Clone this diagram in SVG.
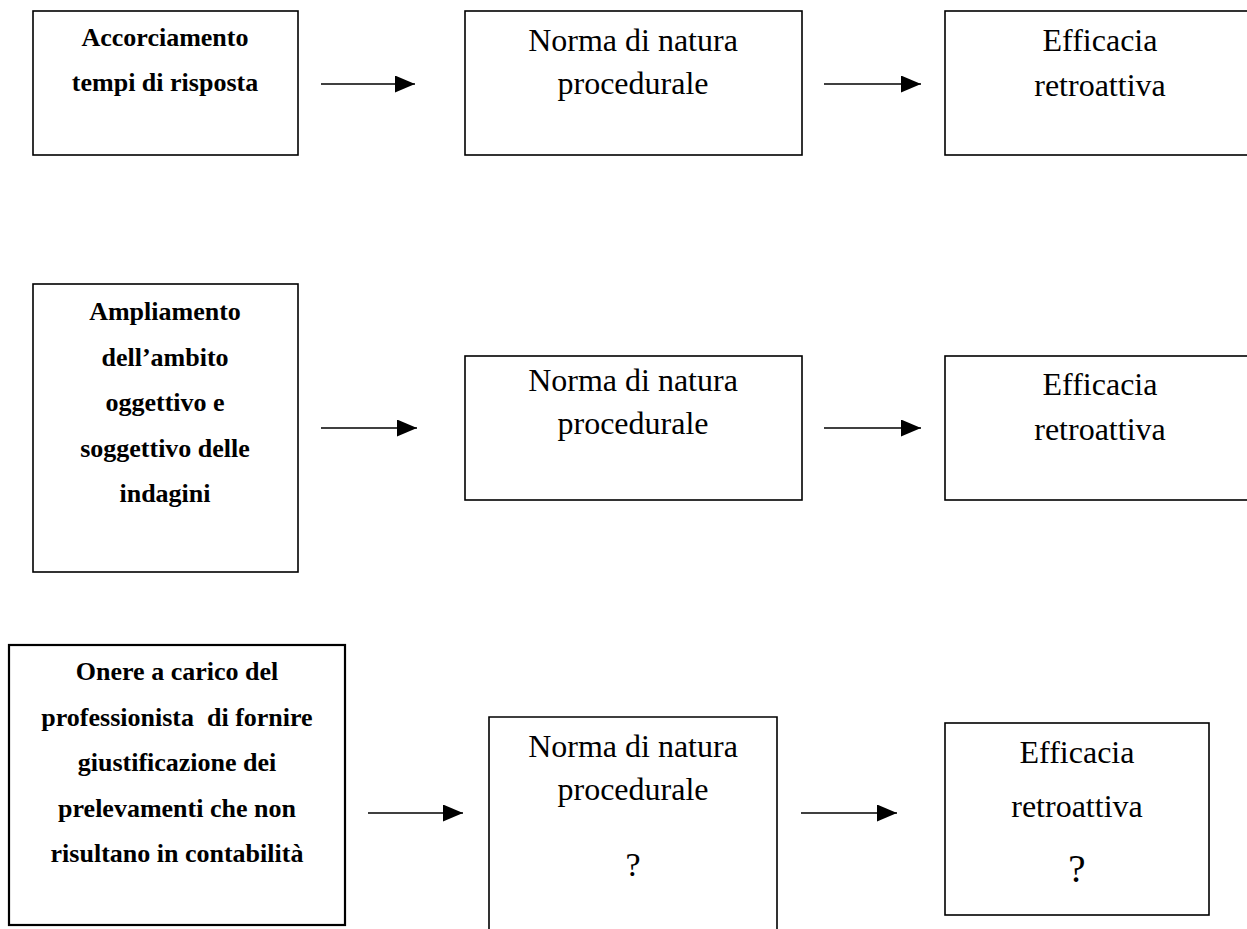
<svg xmlns="http://www.w3.org/2000/svg" width="1247" height="929" viewBox="0 0 1247 929">
<style>
.box{fill:#fff;stroke:#000;stroke-width:1.6}
.thick{stroke-width:2.2}
.b{font-family:"Liberation Serif","Times New Roman",serif;font-weight:bold;font-size:26px;text-anchor:middle;fill:#000}
.r{font-family:"Liberation Serif","Times New Roman",serif;font-size:32px;text-anchor:middle;fill:#000}
.q{font-family:"Liberation Serif","Times New Roman",serif;font-size:34px;text-anchor:middle;fill:#000}
.q2{font-family:"Liberation Serif","Times New Roman",serif;font-size:39px;text-anchor:middle;fill:#000}
.ln{stroke:#000;stroke-width:1.6;fill:none}
</style>
<defs>
<marker id="ah" markerUnits="userSpaceOnUse" markerWidth="20" markerHeight="17" refX="20" refY="8.5" orient="auto">
<path d="M0,0 L20,8.5 L0,17 Z" fill="#000"/>
</marker>
</defs>
<rect width="1247" height="929" fill="#fff"/>

<g id="n1a"><rect class="box" x="33" y="11" width="265" height="144"/>
<text class="b" x="165" y="46">Accorciamento</text>
<text class="b" x="165" y="91">tempi di risposta</text></g>
<g id="n1b"><rect class="box" x="465" y="11" width="337" height="144"/>
<text class="r" x="633" y="51">Norma di natura</text>
<text class="r" x="633" y="94">procedurale</text></g>
<g id="n1c"><rect class="box" x="945" y="11" width="312" height="144"/>
<text class="r" x="1100" y="51">Efficacia</text>
<text class="r" x="1100" y="96">retroattiva</text></g>

<g id="n2a"><rect class="box" x="33" y="284" width="265" height="288"/>
<text class="b" x="165" y="320">Ampliamento</text>
<text class="b" x="165" y="366">dell’ambito</text>
<text class="b" x="165" y="411">oggettivo e</text>
<text class="b" x="165" y="457">soggettivo delle</text>
<text class="b" x="165" y="502">indagini</text></g>
<g id="n2b"><rect class="box" x="465" y="356" width="337" height="144"/>
<text class="r" x="633" y="391">Norma di natura</text>
<text class="r" x="633" y="434">procedurale</text></g>
<g id="n2c"><rect class="box" x="945" y="356" width="312" height="144"/>
<text class="r" x="1100" y="395">Efficacia</text>
<text class="r" x="1100" y="440">retroattiva</text></g>

<g id="n3a"><rect class="box thick" x="9" y="645" width="336" height="280"/>
<text class="b" x="177" y="680">Onere a carico del</text>
<text class="b" x="177" y="726" xml:space="preserve">professionista  di fornire</text>
<text class="b" x="177" y="771">giustificazione dei</text>
<text class="b" x="177" y="817">prelevamenti che non</text>
<text class="b" x="177" y="862">risultano in contabilità</text></g>
<g id="n3b"><path class="box" d="M489,935 L489,717 L777,717 L777,935"/>
<text class="r" x="633" y="757">Norma di natura</text>
<text class="r" x="633" y="800">procedurale</text>
<text class="q" x="633" y="876">?</text></g>
<g id="n3c"><rect class="box" x="945" y="723" width="264" height="192"/>
<text class="r" x="1077" y="763">Efficacia</text>
<text class="r" x="1077" y="817">retroattiva</text>
<text class="q2" x="1077" y="882">?</text></g>

<g id="connectors">
<line class="ln" x1="321" y1="84" x2="415" y2="84" marker-end="url(#ah)"/>
<line class="ln" x1="824" y1="84" x2="921" y2="84" marker-end="url(#ah)"/>
<line class="ln" x1="321" y1="428" x2="417" y2="428" marker-end="url(#ah)"/>
<line class="ln" x1="824" y1="428" x2="921" y2="428" marker-end="url(#ah)"/>
<line class="ln" x1="368" y1="813" x2="463" y2="813" marker-end="url(#ah)"/>
<line class="ln" x1="801" y1="813" x2="897" y2="813" marker-end="url(#ah)"/>
</g>
</svg>
